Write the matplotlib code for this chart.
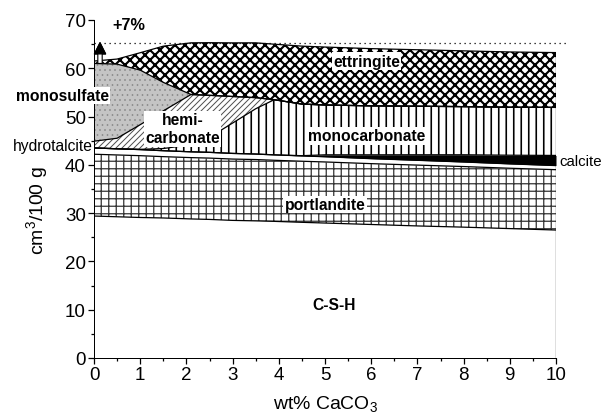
import numpy as np
import matplotlib
matplotlib.use('Agg')
import matplotlib.pyplot as plt
from matplotlib.ticker import MultipleLocator

plt.rcParams['font.family'] = ['Liberation Sans', 'DejaVu Sans']
plt.rcParams['mathtext.fontset'] = 'custom'
plt.rcParams['mathtext.rm'] = 'Liberation Sans'
plt.rcParams['mathtext.it'] = 'Liberation Sans:italic'
plt.rcParams['mathtext.bf'] = 'Liberation Sans:bold'

# ---- data (cm3 / 100 g of each phase) ----
caco3 = [0, 0.5, 1, 1.5, 2.1, 2.5, 3, 3.5, 3.9, 4.5, 5, 6, 7, 8, 9, 10]
csh = [29.4, 29.25, 29.1, 29.0, 28.8, 28.7, 28.5, 28.4, 28.3, 28.1, 27.95, 27.65, 27.35, 27.1, 26.8, 26.5]
portlandite = [12.8, 12.8, 12.8, 12.7, 12.7, 12.7, 12.7, 12.7, 12.65, 12.65, 12.65, 12.6, 12.6, 12.55, 12.5, 12.5]
hydrotalcite = [1.3, 1.28, 1.26, 1.23, 1.2, 1.19, 1.17, 1.14, 1.12, 1.1, 1.08, 1.03, 0.99, 0.94, 0.9, 0.85]
calcite = [0, 0, 0, 0, 0, 0, 0, 0, 0, 0.05, 0.4, 0.8, 1.15, 1.5, 1.8, 2.1]
monocarbonate = [0, 0, 0.06, 0.45, 1.47, 3.11, 6.29, 9.38, 11.42, 10.69, 10.32, 10.14, 10.05, 9.97, 9.93, 9.95]
hemicarbonate = [1.4, 2.18, 5.1, 7.8, 10.4, 8.7, 5.5, 2.3, 0, 0, 0, 0, 0, 0, 0, 0]
monosulfate = [16.1, 15.35, 11.3, 5.9, 0, 0, 0, 0, 0, 0, 0, 0, 0, 0, 0, 0]
ettringite = [0.5, 1.05, 3.6, 7.5, 10.7, 10.9, 11.1, 11.35, 11.5, 12.0, 12.0, 11.85, 11.7, 11.55, 11.45, 11.35]

layers = [csh, portlandite, hydrotalcite, calcite, monocarbonate,
          hemicarbonate, monosulfate, ettringite]
# facecolor, hatch, hatch colour, hatch linewidth
styles = [
    ('white', None, 'black', 1.0),
    ('white', '++', '#333333', 1.0),
    ('white', None, 'black', 1.0),
    ('black', None, 'black', 1.0),
    ('white', '||', 'black', 1.3),
    ('white', '/////', '#505050', 0.8),
    ('#c4c4c4', '...', '#8a8a8a', 0.6),
    ('white', 'xxx', 'black', 1.7),
]

fig = plt.figure(figsize=(603 / 90, 416 / 90), dpi=90)
ax = fig.add_axes([94 / 603, 57 / 416, 462 / 603, 338 / 416])

x = np.array(caco3)
vals = np.array(layers, dtype=float)
tops = np.cumsum(vals, axis=0)
bottoms = np.vstack([np.zeros_like(x), tops[:-1]])

for (fc, h, hc, hlw), b, t in zip(styles, bottoms, tops):
    plt.rcParams['hatch.linewidth'] = hlw
    coll = ax.fill_between(x, b, t, facecolor=fc, edgecolor=hc, hatch=h,
                           linewidth=0, zorder=1)
    if hasattr(coll, 'set_hatch_linewidth'):
        coll.set_hatch_linewidth(hlw)
for t in tops:
    ax.plot(x, t, color='black', lw=1.0, zorder=2, solid_joinstyle='round')
ax.plot([x[-1], x[-1]], [0, tops[-1][-1]], color='black', lw=1.0, zorder=2)

# reference level and arrow
level = tops[-1].max()
ax.plot([0, 10.25], [level, level], color='black', lw=1.0,
        linestyle=(0, (1, 3)), clip_on=False, zorder=2)
ax.annotate('', xy=(0.13, level), xytext=(0.13, tops[6][0]),
            arrowprops=dict(arrowstyle='simple,head_length=0.9,head_width=0.9,tail_width=0.35',
                            fc='white', ec='black', lw=0.9, shrinkA=0, shrinkB=0),
            zorder=4)
ax.annotate('', xy=(0.13, level), xytext=(0.13, level - 1.9),
            arrowprops=dict(arrowstyle='simple,head_length=0.9,head_width=0.9,tail_width=0.01',
                            fc='black', ec='black', lw=0.9, shrinkA=0, shrinkB=0),
            zorder=5)
ax.text(0.76, 69.1, '+7%', fontsize=13, fontweight='bold', ha='center', va='center')

# labels
box = dict(facecolor='white', edgecolor='none', pad=1.0)
bfs = 12.5
ax.text(5.9, 61.5, 'ettringite', fontsize=bfs, fontweight='bold', ha='center', va='center', bbox=box, zorder=6)
ax.text(-0.68, 54.4, 'monosulfate', fontsize=bfs, fontweight='bold', ha='center', va='center', bbox=box, zorder=6)
ax.text(1.92, 47.5, 'hemi-\ncarbonate', fontsize=bfs, fontweight='bold', ha='center', va='center',
        linespacing=1.3, bbox=box, zorder=6)
ax.text(5.9, 46.0, 'monocarbonate', fontsize=bfs, fontweight='bold', ha='center', va='center', bbox=box, zorder=6)
ax.text(5.0, 31.8, 'portlandite', fontsize=bfs, fontweight='bold', ha='center', va='center', bbox=box, zorder=6)
ax.text(5.2, 11.1, 'C-S-H', fontsize=bfs, fontweight='bold', ha='center', va='center', zorder=6)
ax.text(-0.03, 44.1, 'hydrotalcite', fontsize=12.5, ha='right', va='center', zorder=6)
ax.text(10.07, 40.8, 'calcite', fontsize=12, ha='left', va='center', zorder=6)

# axes styling
ax.set_xlim(0, 10)
ax.set_ylim(0, 70)
ax.spines['top'].set_visible(False)
ax.spines['right'].set_visible(False)
ax.set_xticks(range(0, 11))
ax.set_yticks(range(0, 71, 10))
ax.xaxis.set_minor_locator(MultipleLocator(0.5))
ax.yaxis.set_minor_locator(MultipleLocator(5))
ax.tick_params(which='major', direction='out', length=4.5, width=1.0, labelsize=15, pad=2)
ax.tick_params(which='minor', direction='out', length=2.5, width=1.0)
ax.set_xlabel('wt% CaCO$_3$', fontsize=15.5)
ax.set_ylabel('cm$^3$/100 g', fontsize=15.5)
ax.xaxis.set_label_coords(0.5, -0.105)
ax.yaxis.set_label_coords(-0.095, 0.44)
ax.set_facecolor('white')

fig.savefig('out.png', dpi=90, facecolor='white')
